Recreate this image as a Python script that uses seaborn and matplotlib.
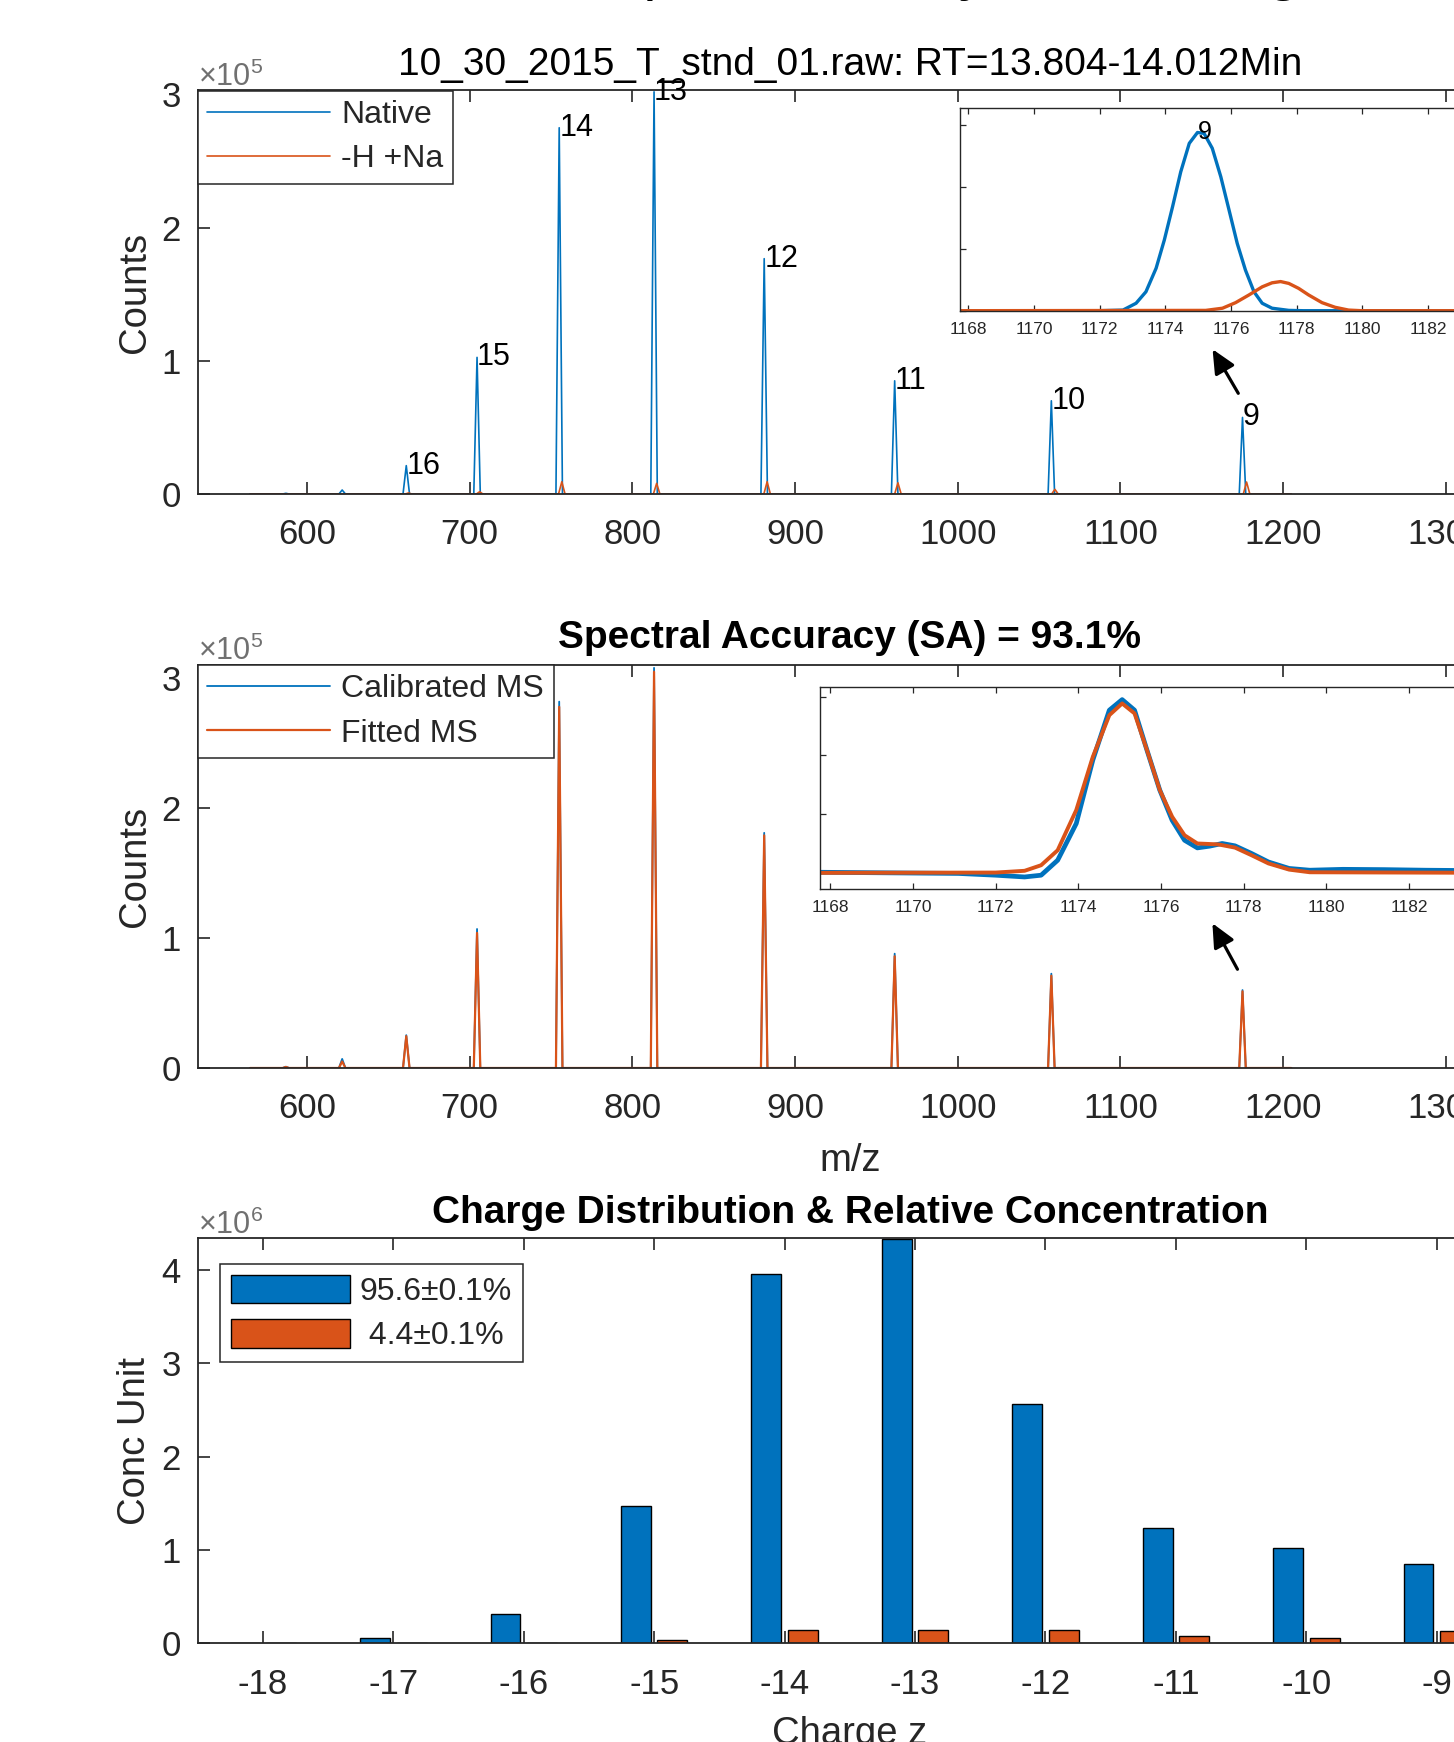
import matplotlib
matplotlib.use("Agg")
import matplotlib.pyplot as plt
import seaborn as sns
import pandas as pd

# ---------------- data ----------------
native_mz = [587.0, 621.6, 661.0, 704.5, 755.0, 813.3, 881.0, 961.2, 1057.5, 1175.0]
native_counts = [500, 3000, 21300, 102600, 275000, 302000, 176700, 85000, 70000, 57500]
charge_labels = ["", "", "16", "15", "14", "13", "12", "11", "10", "9"]
adduct_mz = [662.4, 706.1, 756.6, 814.9, 882.8, 963.2, 1059.7, 1177.5]
adduct_counts = [800, 1700, 9200, 8000, 9200, 8400, 3500, 9000]
calibrated_counts = [1000, 7000, 25300, 107000, 282000, 308000, 181000, 88000, 72600, 60000]
fitted_counts = [800, 5000, 24500, 104000, 278000, 305000, 179000, 86000, 71000, 59000]
spectrum_limits = [565.0, 1205.0]
peak_half_base = 2.0

zoom_native_mz = [1167.75, 1172.0, 1172.71, 1173.11, 1173.41, 1173.72, 1173.97, 1174.22,
                  1174.47, 1174.73, 1174.98, 1175.18, 1175.43, 1175.69, 1175.94, 1176.19,
                  1176.44, 1176.70, 1176.95, 1177.25, 1177.76, 1178.2, 1184.25]
zoom_native_counts = [0, 0, 200, 2400, 6100, 13700, 22800, 33500, 44800, 54000, 57500, 57200,
                      52400, 43200, 32500, 21700, 13100, 6100, 2400, 800, 100, 0, 0]
zoom_adduct_mz = [1167.75, 1175.23, 1175.74, 1176.14, 1176.55, 1176.95, 1177.25, 1177.51,
                  1177.76, 1178.06, 1178.36, 1178.77, 1179.17, 1179.58, 1179.98, 1184.25]
zoom_adduct_counts = [0, 100, 800, 2600, 5100, 7700, 9000, 9400, 8800, 7200, 5100, 2600,
                      1100, 200, 0, 0]

zoom_cal_mz = [1167.75, 1171.1, 1172.0, 1172.7, 1173.1, 1173.5, 1173.95, 1174.35, 1174.75,
               1175.06, 1175.36, 1175.66, 1175.97, 1176.27, 1176.57, 1176.88, 1177.18,
               1177.48, 1177.79, 1178.19, 1178.6, 1179.1, 1179.6, 1180.4, 1181.4, 1182.4,
               1184.25]
zoom_cal_counts = [200, -200, -800, -1400, -800, 4300, 16800, 38400, 55400, 59000, 55400,
                   41800, 28200, 17900, 11100, 8500, 9100, 10000, 9200, 6600, 3700, 1500,
                   900, 1200, 1100, 900, 700]
zoom_fit_mz = [1167.75, 1172.0, 1172.7, 1173.1, 1173.5, 1173.95, 1174.35, 1174.75, 1175.06,
               1175.36, 1175.66, 1175.97, 1176.27, 1176.57, 1176.88, 1177.38, 1177.79,
               1178.19, 1178.6, 1179.1, 1179.6, 1184.25]
zoom_fit_counts = [0, 100, 700, 2600, 7700, 21400, 39500, 53700, 57700, 54300, 41800, 28200,
                   19100, 12800, 10000, 9700, 8600, 6000, 3200, 1100, 200, 0]

charges = [-18, -17, -16, -15, -14, -13, -12, -11, -10, -9]
conc_native = [0, 55000, 310000, 1470000, 3960000, 4340000, 2565000, 1240000, 1020000, 847000]
conc_adduct = [0, 0, 0, 30000, 138000, 138000, 138000, 77000, 55000, 130000]
species_labels = ["95.6\u00b10.1%", " 4.4\u00b10.1%"]

# ---------------- style ----------------
BLUE = "#0072BD"
ORANGE = "#D95319"
AX = "#262626"
sns.set_style("white")
plt.rcParams["font.family"] = ["Liberation Sans", "DejaVu Sans"]
plt.rcParams["mathtext.fontset"] = "custom"
plt.rcParams["mathtext.rm"] = "Liberation Sans"
plt.rcParams["mathtext.it"] = "Liberation Sans:italic"
plt.rcParams["mathtext.bf"] = "Liberation Sans:bold"

W, H = 1454, 1742
fig = plt.figure(figsize=(W / 100, H / 100), dpi=100)
fig.patch.set_facecolor("white")


def stick(mz, counts):
    xs, ys = [spectrum_limits[0]], [0.0]
    for c, h in zip(mz, counts):
        xs += [c - peak_half_base, c, c + peak_half_base]
        ys += [0.0, h, 0.0]
    xs.append(spectrum_limits[1])
    ys.append(0.0)
    return xs, ys


def style_main(ax, xpad=17):
    for s in ax.spines.values():
        s.set_linewidth(1.3)
        s.set_color(AX)
    ax.tick_params(axis="both", which="major", direction="in", length=8.5, width=1.2,
                   colors=AX, labelsize=25, top=True, right=True, bottom=True, left=True)
    ax.tick_params(axis="x", pad=xpad)
    ax.tick_params(axis="y", pad=12)
    ax.ticklabel_format(axis="y", style="sci", scilimits=(0, 0), useMathText=True)
    ot = ax.yaxis.get_offset_text()
    ot.set_fontsize(22)
    ot.set_color("#707070")
    ax.grid(False)
    ax.set_facecolor("white")


def style_inset(ax):
    for s in ax.spines.values():
        s.set_linewidth(1.0)
        s.set_color(AX)
    ax.tick_params(axis="both", which="major", direction="in", length=4.5, width=0.9,
                   colors=AX, labelsize=12.5, top=True, right=True, bottom=True, left=True)
    ax.tick_params(axis="x", pad=8)
    ax.tick_params(axis="y", labelleft=False)
    ax.set_xticks(list(range(1168, 1186, 2)))
    ax.set_yticks([0, 20000, 40000, 60000])
    ax.set_xlim(1167.75, 1184.25)
    ax.grid(False)
    ax.set_facecolor("white")


def legend(ax, loc_xy, **kw):
    lg = ax.legend(loc="upper left", bbox_to_anchor=loc_xy, borderaxespad=0, frameon=True,
                   fancybox=False, edgecolor=AX, framealpha=1, fontsize=23,
                   borderpad=0.3, labelspacing=0.45, handletextpad=0.35, **kw)
    lg.get_frame().set_linewidth(1.1)
    for t in lg.get_texts():
        t.set_color(AX)
    return lg


ARROW = dict(arrowstyle="-|>,head_length=0.9,head_width=0.42", color="black",
             lw=2.3, mutation_scale=16, shrinkA=0, shrinkB=0)

L, Wd = 197.7 / W, 1304.3 / W

# large figure heading, almost entirely above the visible area (only descenders show)
fig.text(234 / W, 1.0 + 11 / H, "Deconvolution (Native Analysis & Fitting Results)",
         fontsize=43.5, ha="left", va="baseline", color="black")

# ---------------- panel 1 ----------------
ax1 = fig.add_axes([L, (H - 494) / H, Wd, 403.5 / H])
x, y = stick(native_mz, native_counts)
sns.lineplot(x=x, y=y, ax=ax1, color=BLUE, lw=1.2, sort=False, estimator=None, label="Native")
x, y = stick(adduct_mz, adduct_counts)
sns.lineplot(x=x, y=y, ax=ax1, color=ORANGE, lw=1.2, sort=False, estimator=None, label="-H +Na")
ax1.set_xlim(532.8, 1334.5)
ax1.set_ylim(0, 3.03e5)
ax1.set_xticks(list(range(600, 1400, 100)))
ax1.set_yticks([0, 1e5, 2e5, 3e5])
style_main(ax1)
for mz, h, lab in zip(native_mz, native_counts, charge_labels):
    if lab:
        ax1.text(mz, h, lab, fontsize=22, ha="left", va="center", color="black")
ax1.set_title("10_30_2015_T_stnd_01.raw: RT=13.804-14.012Min", fontsize=28, y=1.0, pad=11,
              color="black")
ax1.set_ylabel("Counts", fontsize=27.5, color=AX)
ax1.yaxis.set_label_coords(-0.034, 0.5)
legend(ax1, (0, 1), handlelength=3.85)
ax1.annotate("", xy=(1156.6, 1.087e5), xytext=(1172.4, 0.756e5), arrowprops=ARROW)

ins1 = fig.add_axes([960 / W, (H - 310.7) / H, 542 / W, 202.4 / H])
ins1.set_zorder(5)
sns.lineplot(x=zoom_native_mz, y=zoom_native_counts, ax=ins1, color=BLUE, lw=2.4,
             sort=False, estimator=None)
sns.lineplot(x=zoom_adduct_mz, y=zoom_adduct_counts, ax=ins1, color=ORANGE, lw=2.4,
             sort=False, estimator=None)
ins1.set_ylim(0, 6.53e4)
style_inset(ins1)
ins1.text(1175.0, 57500, "9", fontsize=18, ha="left", va="center", color="black")

# ---------------- panel 2 ----------------
ax2 = fig.add_axes([L, (H - 1068) / H, Wd, 403.4 / H])
x, y = stick(native_mz, calibrated_counts)
sns.lineplot(x=x, y=y, ax=ax2, color=BLUE, lw=1.3, sort=False, estimator=None,
             label="Calibrated MS")
x, y = stick(native_mz, fitted_counts)
sns.lineplot(x=x, y=y, ax=ax2, color=ORANGE, lw=1.6, sort=False, estimator=None,
             label="Fitted MS")
ax2.set_xlim(532.8, 1334.5)
ax2.set_ylim(0, 3.105e5)
ax2.set_xticks(list(range(600, 1400, 100)))
ax2.set_yticks([0, 1e5, 2e5, 3e5])
style_main(ax2)
ax2.set_title("Spectral Accuracy (SA) = 93.1%", fontsize=28, fontweight="bold", y=1.0, pad=12,
              color="black")
ax2.set_ylabel("Counts", fontsize=27.5, color=AX)
ax2.yaxis.set_label_coords(-0.034, 0.5)
ax2.set_xlabel("m/z", fontsize=27.5, color=AX)
ax2.xaxis.set_label_coords(0.5, -0.185)
legend(ax2, (0, 1), handlelength=3.85)
ax2.annotate("", xy=(1156.5, 1.114e5), xytext=(1171.9, 0.76e5), arrowprops=ARROW)

ins2 = fig.add_axes([820 / W, (H - 889) / H, 682 / W, 202.3 / H])
ins2.set_zorder(5)
sns.lineplot(x=zoom_cal_mz, y=zoom_cal_counts, ax=ins2, color=BLUE, lw=3.4,
             sort=False, estimator=None)
sns.lineplot(x=zoom_fit_mz, y=zoom_fit_counts, ax=ins2, color=ORANGE, lw=2.8,
             sort=False, estimator=None)
ins2.set_ylim(-5500, 6.34e4)
style_inset(ins2)

# ---------------- panel 3 ----------------
ax3 = fig.add_axes([L, (H - 1643.1) / H, Wd, 404.7 / H])
df = pd.DataFrame({
    "charge": charges + charges,
    "conc": conc_native + conc_adduct,
    "species": [species_labels[0]] * len(charges) + [species_labels[1]] * len(charges),
})
sns.barplot(data=df, x="charge", y="conc", hue="species", hue_order=species_labels,
            order=charges, palette=[BLUE, ORANGE], saturation=1, width=0.56, gap=0.18,
            edgecolor="black", linewidth=1.0, errorbar=None, ax=ax3)
ax3.set_xlim(-0.5, len(charges) - 0.5)
ax3.set_xticks(list(range(len(charges))))
ax3.set_xticklabels([str(c) for c in charges])
ax3.set_ylim(0, 4.342e6)
ax3.set_yticks([0, 1e6, 2e6, 3e6, 4e6])
style_main(ax3, xpad=18)
ax3.set_title("Charge Distribution & Relative Concentration", fontsize=28, fontweight="bold",
              y=1.0, pad=11, color="black")
ax3.set_ylabel("Conc Unit", fontsize=27.5, color=AX)
ax3.yaxis.set_label_coords(-0.034, 0.5)
ax3.set_xlabel("Charge z", fontsize=27.5, color=AX)
ax3.xaxis.set_label_coords(0.5, -0.18)
handles, labels = ax3.get_legend_handles_labels()
lg = ax3.legend(handles, labels, loc="upper left",
                bbox_to_anchor=((220 - 197.7) / 1304.3, (1643.1 - 1264) / 404.7),
                borderaxespad=0, frameon=True, fancybox=False, edgecolor=AX, framealpha=1,
                fontsize=23, borderpad=0.33, labelspacing=0.38, handletextpad=0.3,
                handlelength=3.75, handleheight=1.0)
lg.get_frame().set_linewidth(1.1)

fig.savefig("out.png", dpi=100, facecolor="white")
